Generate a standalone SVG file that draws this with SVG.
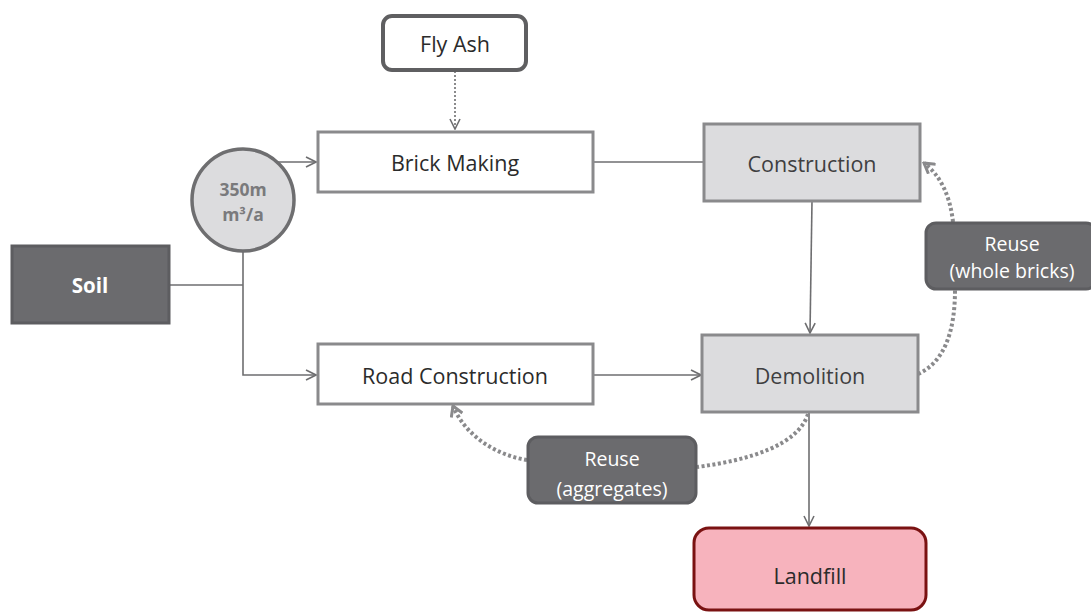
<svg xmlns="http://www.w3.org/2000/svg" width="1091" height="612" viewBox="0 0 1091 612">
  <defs>
    <marker id="open" viewBox="0 0 12 12" refX="11" refY="6" markerWidth="12" markerHeight="12" markerUnits="userSpaceOnUse" orient="auto">
      <path d="M1,1 L11,6 L1,11" fill="none" stroke="#6e6e70" stroke-width="1.6"/>
    </marker>
    <marker id="openThick" viewBox="0 0 14 14" refX="12" refY="7" markerWidth="14" markerHeight="14" markerUnits="userSpaceOnUse" orient="auto">
      <path d="M2,1 L12,7 L2,13" fill="none" stroke="#8a8a8c" stroke-width="3"/>
    </marker>
  </defs>
  <style>
    text { font-family: "Open Sans", "Liberation Sans", sans-serif; text-anchor: middle; dominant-baseline: central; }
    .box { fill: #ffffff; stroke: #8a8a8c; stroke-width: 3; }
    .grey { fill: #dcdcde; stroke: #8a8a8c; stroke-width: 3; }
    .dark { fill: #6b6b6e; stroke: #5d5d60; stroke-width: 3; }
    .lbl { font-size: 21.5px; fill: #2b2b2b; }
    .lblg { font-size: 21.5px; fill: #3f3f41; }
    .wht { font-size: 19.5px; fill: #ffffff; }
    .link { fill: none; stroke: #6e6e70; stroke-width: 1.6; }
    .reuse { fill: none; stroke: #8a8a8c; stroke-width: 4; stroke-dasharray: 3 2.5; }
  </style>

  <g id="connectors">
    <path class="link" d="M455,71 L455,129" stroke-dasharray="2 2" marker-end="url(#open)"/>
    <path class="link" d="M278,162 L316,162" marker-end="url(#open)"/>
    <path class="link" d="M593,162 L703,162"/>
    <path class="link" d="M169,285 L243,285"/>
    <path class="link" d="M243,252 L243,375 L316,375" marker-end="url(#open)"/>
    <path class="link" d="M593,375 L701,375" marker-end="url(#open)"/>
    <path class="link" d="M812,201 L810,333" marker-end="url(#open)"/>
    <path class="link" d="M809,412 L809,526" marker-end="url(#open)"/>
    <path class="reuse" d="M918,374 C945,362 955,330 955,290"/>
    <path class="reuse" d="M953,222 C950,195 940,175 924,163" marker-end="url(#openThick)"/>
    <path class="reuse" d="M808,414 C798,445 750,460 697,467"/>
    <path class="reuse" d="M527,460 C495,455 465,435 453,406" marker-end="url(#openThick)"/>
  </g>

  <g id="fly-ash">
    <rect x="383" y="16" width="143" height="54" rx="9" fill="#ffffff" stroke="#5f5f61" stroke-width="4"/>
    <text class="lbl" x="455" y="43">Fly Ash</text>
  </g>

  <g id="brick-making">
    <rect class="box" x="318" y="132" width="275" height="60"/>
    <text class="lbl" x="455" y="162">Brick Making</text>
  </g>

  <g id="volume">
    <circle cx="243" cy="200" r="51" fill="#dcdcde" stroke="#6e6e70" stroke-width="3.5"/>
    <text x="243" y="189" font-size="17.5" font-weight="bold" fill="#7a7a7c">350m</text>
    <text x="243" y="214" font-size="17.5" font-weight="bold" fill="#7a7a7c">m³/a</text>
  </g>

  <g id="soil">
    <rect class="dark" x="12" y="246" width="157" height="77"/>
    <text x="90" y="285" font-size="20.5" font-weight="bold" fill="#ffffff">Soil</text>
  </g>

  <g id="road-construction">
    <rect class="box" x="318" y="344" width="275" height="60"/>
    <text class="lbl" x="455" y="375">Road Construction</text>
  </g>

  <g id="construction">
    <rect class="grey" x="704" y="124" width="216" height="77"/>
    <text class="lblg" x="812" y="163">Construction</text>
  </g>

  <g id="demolition">
    <rect class="grey" x="702" y="335" width="216" height="77"/>
    <text class="lblg" x="810" y="375">Demolition</text>
  </g>

  <g id="reuse-bricks">
    <rect class="dark" x="926" y="223" width="170" height="66" rx="10"/>
    <text class="wht" x="1012" y="243">Reuse</text>
    <text class="wht" x="1012" y="270">(whole bricks)</text>
  </g>

  <g id="reuse-aggregates">
    <rect class="dark" x="528" y="437" width="168" height="66" rx="10"/>
    <text class="wht" x="612" y="458">Reuse</text>
    <text class="wht" x="612" y="488">(aggregates)</text>
  </g>

  <g id="landfill">
    <rect x="694" y="528" width="232" height="82" rx="15" fill="#f7b3bd" stroke="#7a1212" stroke-width="3"/>
    <text class="lbl" x="810" y="575">Landfill</text>
  </g>
</svg>
